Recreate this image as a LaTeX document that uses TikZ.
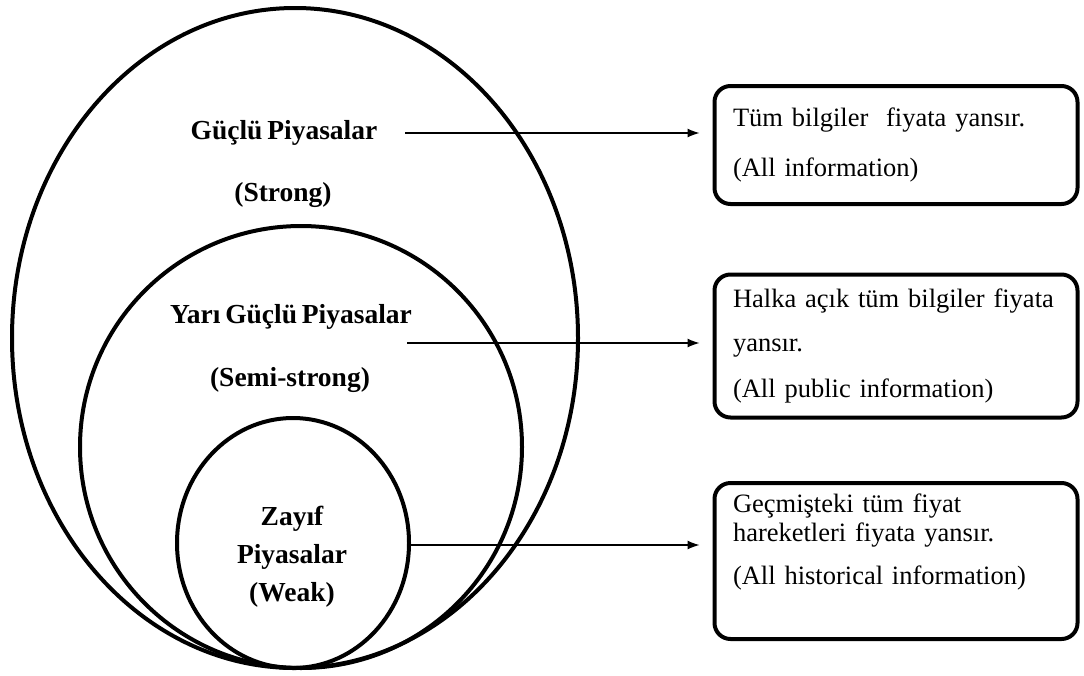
\documentclass[tikz,border=0pt]{standalone}
\usepackage{fontspec}
\setmainfont{Liberation Serif}[WordSpace=0.7]
\usetikzlibrary{positioning,shapes,arrows.meta,calc}

\begin{document}
\begin{tikzpicture}[x=1pt, y=-1pt]
    % Define styles
    \tikzset{ring/.style={draw, line width=4pt}}
    \tikzset{market/.style={font=\fontsize{27.5}{38}\selectfont\bfseries, align=center}}
    \tikzset{infobox/.style={draw, line width=4pt, rounded corners=16pt, minimum width=363pt, text width=326pt, align=left, font=\fontsize{26.5}{29}\selectfont}}
    \tikzset{pointer/.style={-{Latex[length=12pt, width=9pt]}, line width=1.2pt, shorten >=13pt}}

    % Fix the canvas
    \useasboundingbox (0,0) rectangle (1084,675);

    % Draw the market forms
    \draw[ring] (295,338) ellipse [x radius=283pt, y radius=330pt];
    \draw[ring] (301,447) ellipse [x radius=221pt, y radius=221pt];
    \draw[ring] (293,543) ellipse [x radius=116pt, y radius=125pt];

    % Market names
    \node[market] (strong_lbl) at (284,133) {Güçlü Piyasalar};
    \node[market] (strong_en) at (283,195) {(Strong)};
    \node[market] (semi_lbl) at (291,317) {Yarı Güçlü Piyasalar};
    \node[market] (semi_en) at (290,380) {(Semi-strong)};
    \node[market] (weak_lbl) at (292,557) {Zayıf\\Piyasalar\\(Weak)};

    % Information boxes
    \node[infobox, minimum height=118pt] (all_info) at (896,145)
        {Tüm bilgiler\ \ fiyata yansır.\\[21pt](All information)};
    \node[infobox, minimum height=143pt] (public_info) at (896,346)
        {Halka açık tüm bilgiler fiyata\\[15pt]yansır.\\[17pt](All public information)};
    \node[infobox, minimum height=156pt] (past_info) at (896,561)
        {Geçmişteki tüm fiyat\\hareketleri fiyata yansır.\\[14pt](All historical information)\\[15pt]\mbox{}};

    % Connect markets to information sets
    \coordinate (p1) at (405,133);
    \coordinate (p2) at (407,343);
    \coordinate (p3) at (407,545);
    \draw[pointer] (p1) -- (p1 -| all_info.west);
    \draw[pointer] (p2) -- (p2 -| public_info.west);
    \draw[pointer] (p3) -- (p3 -| past_info.west);
\end{tikzpicture}
\end{document}
